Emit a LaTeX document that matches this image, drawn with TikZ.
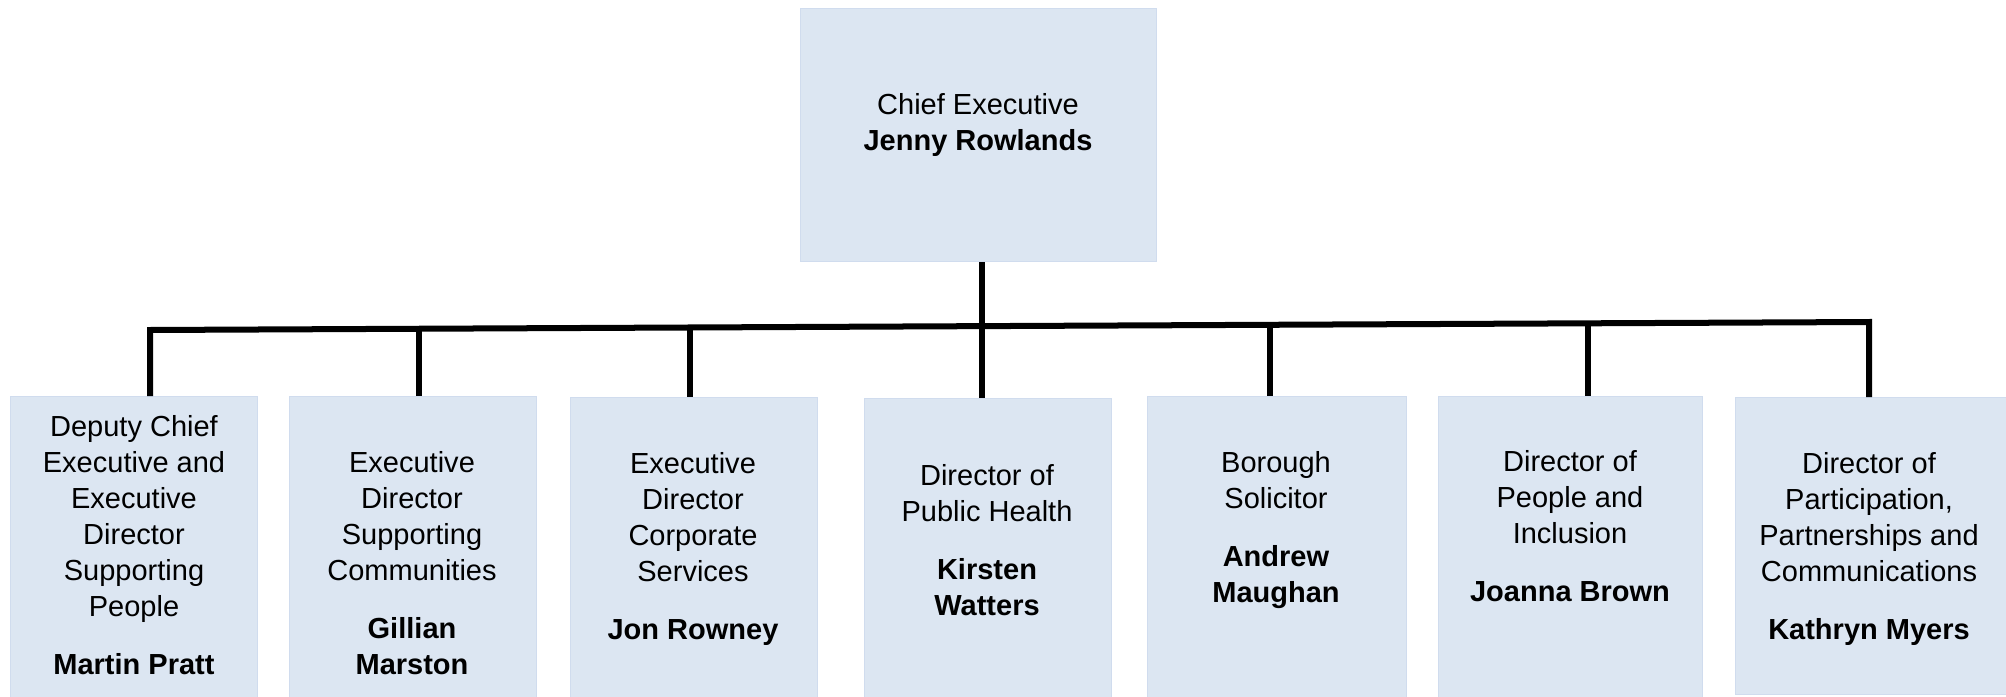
\documentclass[tikz,border=0pt]{standalone}
\usepackage{fontspec}
\setmainfont{Liberation Sans}
\definecolor{boxfill}{RGB}{220,230,242}
\definecolor{boxline}{RGB}{208,220,238}
\begin{document}
\begin{tikzpicture}[x=0.01cm,y=-0.01cm,
  box/.style={draw=boxline,fill=boxfill,line width=0.01cm,inner sep=0pt,anchor=north west},
  txt/.style={align=center,inner sep=0pt,font=\fontsize{8.25pt}{10.25pt}\selectfont},
  conn/.style={draw=black,line width=0.06cm,line join=miter,line cap=rect}]
\useasboundingbox (0,0) rectangle (2006,697);
% boxes
\node[box,minimum width=3.56cm,minimum height=2.53cm] (top) at (800,8) {};
\node[box,minimum width=2.47cm,minimum height=3.01cm] (b1) at (10,396) {};
\node[box,minimum width=2.47cm,minimum height=3.01cm] (b2) at (289,396) {};
\node[box,minimum width=2.47cm,minimum height=3.00cm] (b3) at (570,397) {};
\node[box,minimum width=2.47cm,minimum height=2.99cm] (b4) at (864,398) {};
\node[box,minimum width=2.59cm,minimum height=3.01cm] (b5) at (1147,396) {};
\node[box,minimum width=2.64cm,minimum height=3.01cm] (b6) at (1438,396) {};
\node[box,minimum width=2.75cm,minimum height=2.97cm] (b7) at (1735,397) {};
% texts
\node[txt] (ttop) at (978,125) {Chief Executive\\\textbf{Jenny Rowlands}};
\node[txt] (t1) at (134,545) {Deputy Chief\\Executive and\\Executive\\Director\\Supporting\\People\\[0.22cm]\textbf{Martin Pratt}};
\node[txt] (t2) at (412,563) {Executive\\Director\\Supporting\\Communities\\[0.22cm]\textbf{Gillian}\\\textbf{Marston}};
\node[txt] (t3) at (693,549) {Executive\\Director\\Corporate\\Services\\[0.22cm]\textbf{Jon Rowney}};
\node[txt] (t4) at (987,540) {Director of\\Public Health\\[0.22cm]\textbf{Kirsten}\\\textbf{Watters}};
\node[txt] (t5) at (1276,530) {Borough\\Solicitor\\[0.22cm]\textbf{Andrew}\\\textbf{Maughan}};
\node[txt] (t6) at (1570,526) {Director of\\People and\\Inclusion\\[0.22cm]\textbf{Joanna Brown}};
\node[txt] (t7) at (1869,549) {Director of\\Participation,\\Partnerships and\\Communications\\[0.22cm]\textbf{Kathryn Myers}};
% junctions on the slightly tilted bar
\coordinate (j1) at (150,330);
\coordinate (j2) at (419,328.7);
\coordinate (j3) at (690,327.5);
\coordinate (j4) at (982,326.1);
\coordinate (j5) at (1270,324.8);
\coordinate (j6) at (1588,323.3);
\coordinate (j7) at (1869,322);
% connectors
\draw[conn,line cap=butt] (b1.north -| j1) -- (j1) -- (j7) -- (b7.north -| j7);
\draw[conn,line cap=butt] (top.south -| j4) -- (b4.north -| j4);
\draw[conn,line cap=butt] (j2) -- (b2.north -| j2);
\draw[conn,line cap=butt] (j3) -- (b3.north -| j3);
\draw[conn,line cap=butt] (j5) -- (b5.north -| j5);
\draw[conn,line cap=butt] (j6) -- (b6.north -| j6);
\end{tikzpicture}
\end{document}
